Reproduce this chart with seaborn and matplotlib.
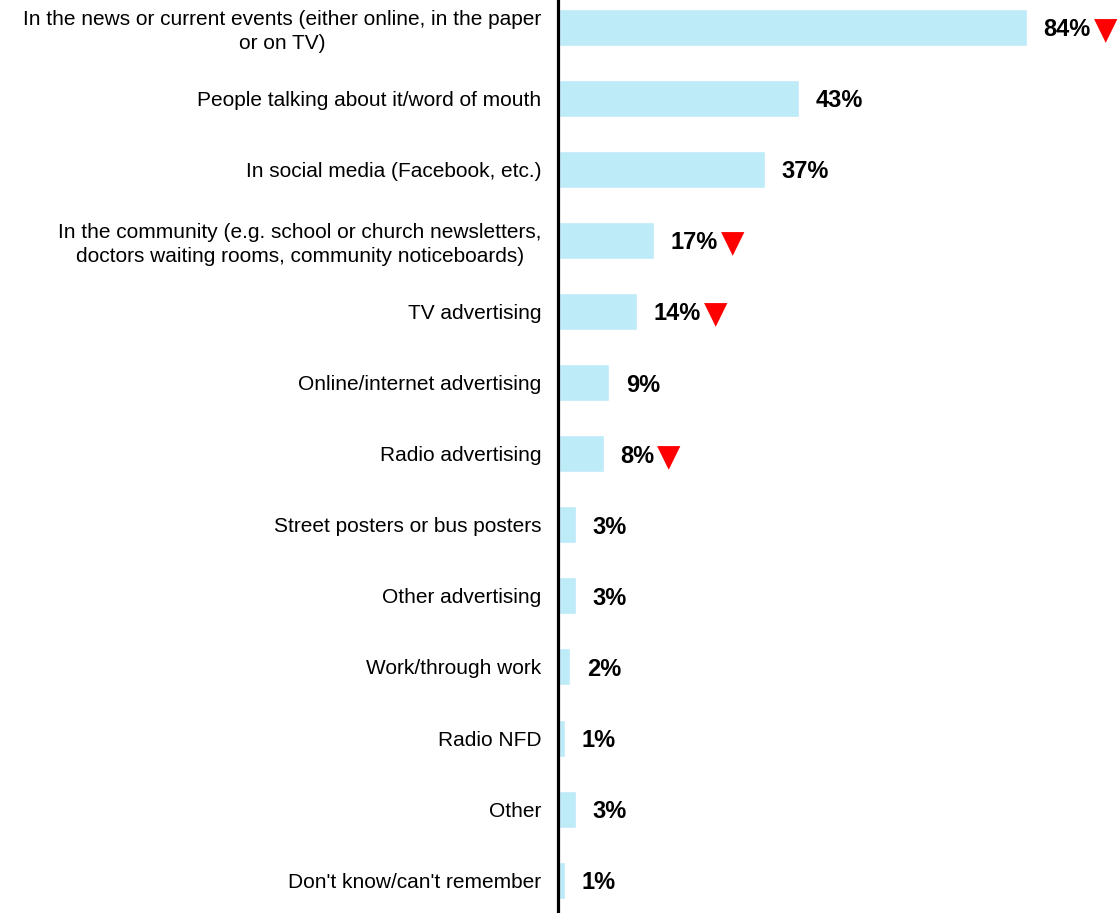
import numpy as np
import pandas as pd
import matplotlib
matplotlib.use('Agg')
import matplotlib.pyplot as plt
import seaborn as sns

categories = [
    'In the news or current events (either online, in the paper\nor on TV)',
    'People talking about it/word of mouth',
    'In social media (Facebook, etc.)',
    'In the community (e.g. school or church newsletters,\ndoctors waiting rooms, community noticeboards)',
    'TV advertising',
    'Online/internet advertising',
    'Radio advertising',
    'Street posters or bus posters',
    'Other advertising',
    'Work/through work',
    'Radio NFD',
    'Other',
    "Don't know/can't remember",
]
values = [84, 43, 37, 17, 14, 9, 8, 3, 3, 2, 1, 3, 1]
# significant decrease markers
decline = [True, False, False, True, True, False, True, False, False, False, False, False, False]

df = pd.DataFrame({'source': categories, 'pct': values})

sns.set_style('white')
plt.rcParams['font.family'] = ['Liberation Sans', 'DejaVu Sans']

fig = plt.figure(figsize=(11.2, 9.13), dpi=100)
ax = fig.add_axes([558 / 1120, 0, 1 - 558 / 1120, 1])

sns.barplot(data=df, x='pct', y='source', orient='h', color='#BDEBF8',
            width=0.52, ax=ax, saturation=1)

ax.set_xlim(-0.2, 100.7)
ax.set_ylim(12.46, -0.38)
ax.set_xlabel('')
ax.set_ylabel('')
ax.set_xticks([])
for s in ['top', 'right', 'bottom']:
    ax.spines[s].set_visible(False)
ax.spines['left'].set_color('black')
ax.spines['left'].set_linewidth(2.3)
ax.spines['left'].set_position(('data', -0.2))
ax.tick_params(axis='y', length=0, pad=12, labelsize=15, labelcolor='black')
for lbl in ax.get_yticklabels():
    lbl.set_multialignment('center')
    lbl.set_linespacing(1.3)

for i, (v, d) in enumerate(zip(values, decline)):
    t = ax.annotate(f'{v}%', xy=(v, i), xytext=(12, 0), textcoords='offset points',
                    ha='left', va='center_baseline', fontsize=17, fontweight='bold',
                    color='black')
    if d:
        ax.annotate('\u25BC', xy=(1, 0.45), xycoords=t, xytext=(2, 0),
                    textcoords='offset points', ha='left', va='center',
                    fontsize=22, color='#FF0000', family='DejaVu Sans',
                    annotation_clip=False)

fig.savefig('out.png', dpi=100)
